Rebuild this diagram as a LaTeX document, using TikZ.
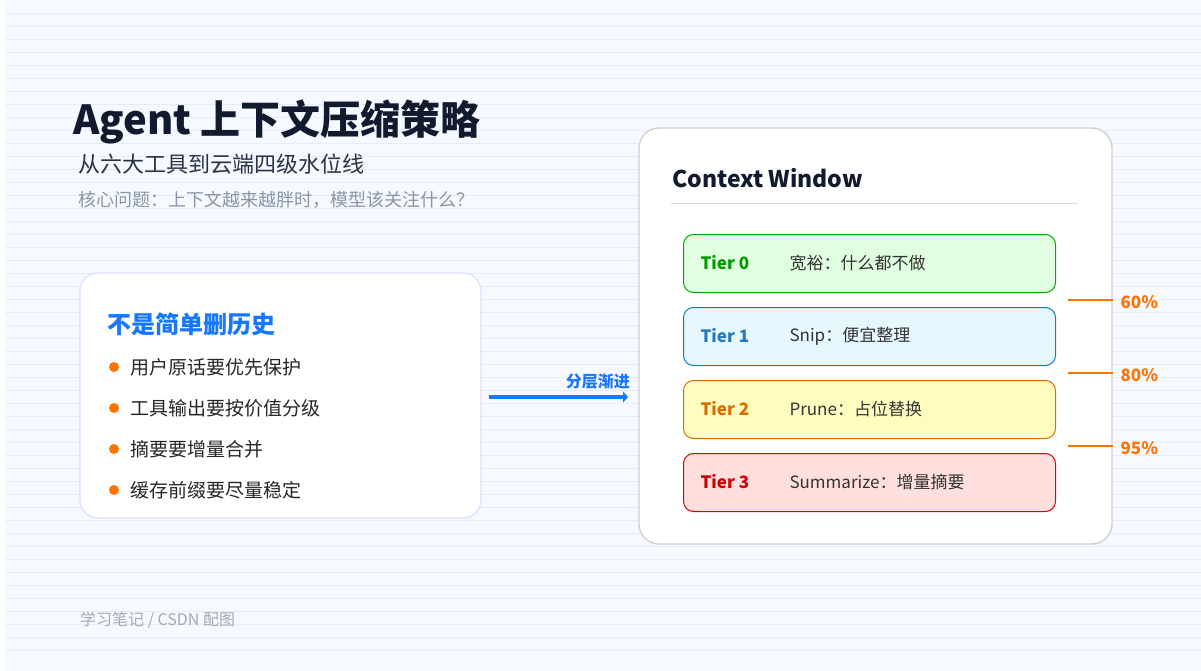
\documentclass[tikz,border=0pt]{standalone}
\usepackage{fontspec}
\usetikzlibrary{arrows.meta}
\setmainfont{Noto Sans CJK SC}
\begin{document}
\begin{tikzpicture}[x=1pt,y=-1pt,
  card/.style={draw=#1,fill=white,rounded corners=18pt,line width=1.3pt},
  tier/.style={rounded corners=10pt,line width=1pt,minimum width=372pt,minimum height=58pt,anchor=north west},
  tl/.style={anchor=west,font=\fontsize{17}{20}\selectfont\bfseries},
  td/.style={anchor=west,font=\fontsize{17}{20}\selectfont,text=black!80},
  bul/.style={anchor=west,font=\fontsize{19}{22}\selectfont,text=black!85},
  dot/.style={circle,fill=orange!90!red,inner sep=0pt,minimum size=10pt},
  mk/.style={draw=orange!90!red,line width=2.5pt},
  pct/.style={anchor=west,font=\fontsize{17}{20}\selectfont\bfseries,text=orange!90!red}]
\definecolor{bg}{HTML}{F6F9FF}
\definecolor{ln}{HTML}{E6ECF8}
\definecolor{navy}{HTML}{111A2E}
\definecolor{sub}{HTML}{2A3446}
\definecolor{gry}{HTML}{8A95A8}
\definecolor{blu}{HTML}{1677FF}
\useasboundingbox (0,0) rectangle (1201,671);
\fill[white] (0,0) rectangle (1201,671);
\fill[bg] (5,0) rectangle (1201,671);
\foreach \y in {13,26,...,660} \draw[ln,line width=0.8pt] (5,\y) -- (1201,\y);
% titles
\node[anchor=base west,inner sep=0,font=\fontsize{40}{44}\selectfont\bfseries,text=navy] (t) at (73,135) {Agent 上下文压缩策略};
\node[anchor=base west,inner sep=0,font=\fontsize{22}{26}\selectfont,text=sub] (s) at (78,172) {从六大工具到云端四级水位线};
\node[anchor=base west,inner sep=0,font=\fontsize{18}{22}\selectfont,text=gry] (q) at (78,207) {核心问题：上下文越来越胖时，模型该关注什么？};
\node[anchor=base west,inner sep=0,font=\fontsize{16}{20}\selectfont,text=gry!80] (f) at (80,625) {学习笔记 / CSDN 配图};
% left card
\draw[card=blue!12] (80,273) rectangle (481,518);
\node[anchor=base west,inner sep=0,font=\fontsize{24}{28}\selectfont\bfseries,text=blu] (h) at (107,333) {不是简单删历史};
\foreach \t [count=\i] in {用户原话要优先保护,工具输出要按价值分级,摘要要增量合并,缓存前缀要尽量稳定}{
  \node[dot] (d\i) at (114,367+41*\i-41) {};
  \node[bul] (b\i) at (127,367+41*\i-41) {\t};
}
% arrow
\coordinate (a1) at (489,397);
\coordinate (a2) at (628,397);
\draw[blu,line width=3.5pt,-{Triangle[length=5pt,width=11pt]}] (a1) -- (a2);
\node[anchor=south east,inner sep=1pt,font=\fontsize{16}{20}\selectfont\bfseries,text=blu] (al) at (631,390) {分层渐进};
% right card
\draw[card=blue!8!gray!35,rounded corners=20pt] (639,128) rectangle (1112,544);
\node[anchor=base west,inner sep=0,font=\fontsize{23}{26}\selectfont\bfseries,text=navy] (cw) at (672,187) {Context Window};
\draw[gray!30,line width=1pt] (671,203) -- (1078,203);
\node[tier,draw=green!65!black,fill=green!12] (r0) at (683,234) {};
\node[tier,draw=cyan!60!blue,fill=cyan!10] (r1) at (683,307) {};
\node[tier,draw=orange!85!black,fill=yellow!25] (r2) at (683,380) {};
\node[tier,draw=red!85!black,fill=red!13] (r3) at (683,453) {};
\node[tl,text=green!60!black] at (697,263) {Tier 0};
\node[tl,text=cyan!60!blue!90!black] at (697,336) {Tier 1};
\node[tl,text=orange!85!black] at (697,409) {Tier 2};
\node[tl,text=red!80!black] at (697,482) {Tier 3};
\node[td] at (786,263) {宽裕：什么都不做};
\node[td] at (786,336) {Snip：便宜整理};
\node[td] at (786,409) {Prune：占位替换};
\node[td] at (786,482) {Summarize：增量摘要};
\foreach \y/\p in {300/60\%,373/80\%,446/95\%}{
  \draw[mk] (1068,\y) -- (1113,\y);
  \node[pct] at (1117,\y+2) {\p};
}
\end{tikzpicture}
\end{document}
